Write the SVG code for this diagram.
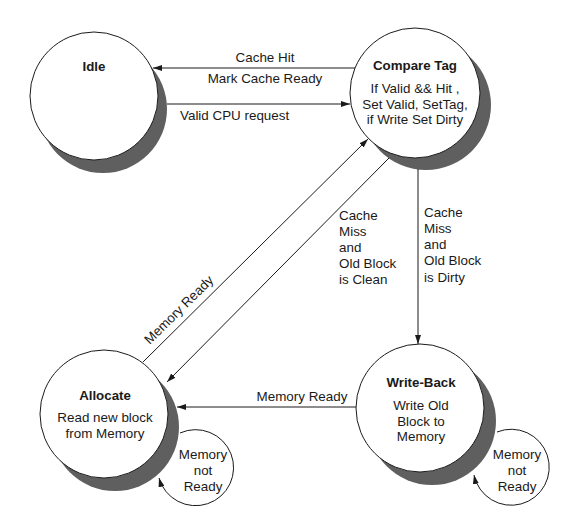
<svg xmlns="http://www.w3.org/2000/svg" width="570" height="514" viewBox="0 0 570 514">
<style>
  .node { fill: #ffffff; stroke: #1a1a1a; stroke-width: 1; }
  .shadow { fill: #5f5f5f; stroke: none; }
  .title { font-family: "Liberation Sans", Arial, sans-serif; font-size: 13.3px; font-weight: bold; fill: #1a1a1a; text-anchor: middle; }
  .txt { font-family: "Liberation Sans", Arial, sans-serif; font-size: 13.4px; fill: #1a1a1a; }
  .mid { text-anchor: middle; }
  .edge { fill: none; stroke: #1a1a1a; stroke-width: 1; }
</style>
<defs>
  <marker id="arrow" markerUnits="userSpaceOnUse" markerWidth="10" markerHeight="6" refX="9" refY="3" orient="auto">
    <path d="M0,0 L9,3 L0,6 z" fill="#1a1a1a"/>
  </marker>
</defs>
<rect width="570" height="514" fill="#ffffff"/>

<g id="idle">
  <circle class="shadow" cx="103" cy="109" r="64"/>
  <circle class="node" cx="94" cy="96" r="64"/>
  <text class="title" x="94" y="71">Idle</text>
</g>

<g id="compare-tag">
  <circle class="shadow" cx="426" cy="105" r="65"/>
  <circle class="node" cx="415" cy="93" r="65"/>
  <text class="title" x="415" y="70">Compare Tag</text>
  <text class="txt mid" x="415" y="93">If Valid &amp;&amp; Hit ,</text>
  <text class="txt mid" x="415" y="108.5">Set Valid, SetTag,</text>
  <text class="txt mid" x="415" y="124">if Write Set Dirty</text>
</g>

<g id="allocate">
  <circle class="shadow" cx="115" cy="427" r="64"/>
  <circle class="node" cx="104" cy="414" r="64"/>
  <text class="title" x="105" y="400">Allocate</text>
  <text class="txt mid" x="105" y="422">Read new block</text>
  <text class="txt mid" x="105" y="437.5">from Memory</text>
</g>

<g id="write-back">
  <circle class="shadow" cx="432" cy="421" r="64"/>
  <circle class="node" cx="420" cy="408" r="64"/>
  <text class="title" x="421" y="387">Write-Back</text>
  <text class="txt mid" x="421" y="410">Write Old</text>
  <text class="txt mid" x="421" y="426">Block to</text>
  <text class="txt mid" x="421" y="441">Memory</text>
</g>

<g id="connectors">
  <line class="edge" x1="355" y1="68" x2="153" y2="68" marker-end="url(#arrow)"/>
  <line class="edge" x1="167" y1="104" x2="350" y2="104" marker-end="url(#arrow)"/>
  <line class="edge" x1="143" y1="362" x2="368" y2="139" marker-end="url(#arrow)"/>
  <line class="edge" x1="389" y1="158" x2="167" y2="382" marker-end="url(#arrow)"/>
  <line class="edge" x1="418" y1="169" x2="418" y2="344" marker-end="url(#arrow)"/>
  <line class="edge" x1="356" y1="407" x2="177" y2="407" marker-end="url(#arrow)"/>
  <path class="edge" d="M180,433 A38,38 0 1,1 159,478" marker-end="url(#arrow)"/>
  <path class="edge" d="M497,432 A38,38 0 1,1 474,475" marker-end="url(#arrow)"/>

  <text class="txt mid" x="265" y="62">Cache Hit</text>
  <text class="txt mid" x="265" y="83">Mark Cache Ready</text>
  <text class="txt" x="180" y="120">Valid CPU request</text>
  <text class="txt mid" x="182" y="313" transform="rotate(-44.7 182 313)">Memory Ready</text>
  <text class="txt" x="339" y="220">Cache</text>
  <text class="txt" x="339" y="236">Miss</text>
  <text class="txt" x="339" y="252">and</text>
  <text class="txt" x="339" y="268">Old Block</text>
  <text class="txt" x="339" y="283.5">is Clean</text>
  <text class="txt" x="424" y="217">Cache</text>
  <text class="txt" x="424" y="233">Miss</text>
  <text class="txt" x="424" y="249">and</text>
  <text class="txt" x="424" y="265">Old Block</text>
  <text class="txt" x="424" y="281.5">is Dirty</text>
  <text class="txt mid" x="302" y="401">Memory Ready</text>
  <text class="txt mid" x="203" y="459">Memory</text>
  <text class="txt mid" x="203" y="475">not</text>
  <text class="txt mid" x="203" y="491">Ready</text>
  <text class="txt mid" x="517" y="459">Memory</text>
  <text class="txt mid" x="517" y="475">not</text>
  <text class="txt mid" x="517" y="491">Ready</text>
</g>
</svg>
